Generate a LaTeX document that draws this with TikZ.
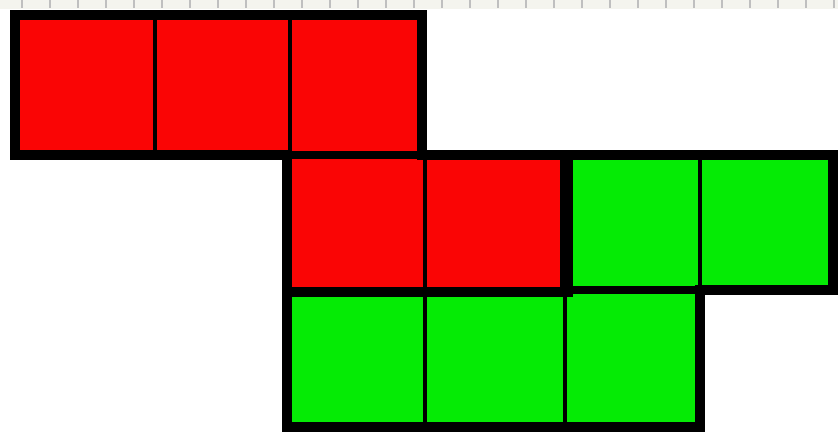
\documentclass[tikz,border=0pt]{standalone}
\usepackage{tikz}
\definecolor{tilered}{RGB}{250,5,5}
\definecolor{tilegreen}{RGB}{5,235,5}
\definecolor{rulerbg}{RGB}{244,244,238}
\tikzset{
  cell/.style={draw=black, line width=1.2pt},
  outline/.style={draw=black, line width=2.8pt, line join=miter},
}

\begin{document}
\begin{tikzpicture}[x=0.01cm, y=-0.01cm]
        \useasboundingbox (0,0) rectangle (838,433);
        % Ruler strip
        \fill[rulerbg] (0,0) rectangle (838,9);
        \foreach \t in {22,50,...,838}
          \draw[gray!50, line width=0.3pt] (\t,0) -- (\t,8);
        % Red cells
        \foreach \xa/\ya/\xb/\yb in {15/15/155/155, 155/15/290/155, 290/15/422/155,
                                     287/155/425/292, 425/155/565/292}
          \filldraw[cell, fill=tilered] (\xa,\ya) rectangle (\xb,\yb);
        % Green cells
        \foreach \xa/\ya/\xb/\yb in {568/155/700/290, 700/155/833/290,
                                     287/292/425/427, 425/292/565/427, 565/292/700/427}
          \filldraw[cell, fill=tilegreen] (\xa,\ya) rectangle (\xb,\yb);
        % Outlines
        \draw[outline] (15,15) -- (422,15) -- (422,155) -- (565,155) -- (565,292)
                       -- (287,292) -- (287,155) -- (15,155) -- cycle;
        \draw[outline] (568,155) -- (833,155) -- (833,290) -- (700,290) -- (700,427)
                       -- (287,427) -- (287,292) -- (568,292) -- cycle;
        % Inner edges
        \draw[line width=2pt] (290,155) -- (422,155);
        \draw[line width=2pt] (568,290) -- (700,290);
      \end{tikzpicture}
\end{document}
